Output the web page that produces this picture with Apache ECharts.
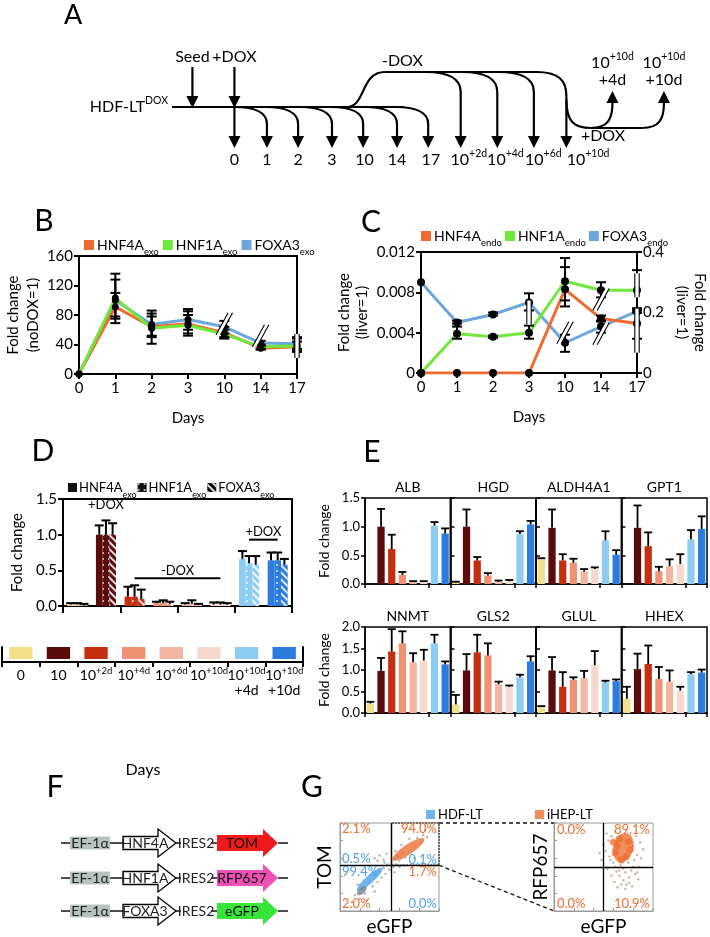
<!DOCTYPE html>
<html>
<head>
<meta charset="utf-8">
<script src="https://cdn.jsdelivr.net/npm/echarts@6/dist/echarts.min.js"></script>
<style>
html,body{margin:0;padding:0;background:#ffffff;}
#chart{width:710px;height:937px;}
</style>
</head>
<body>
<div id="chart"></div>
<script>
const FONT = 'Lato';
const ORANGE = '#F06A2F', GREEN = '#6FE83B', BLUE = '#6BA6DD';
const ORANGE_TXT = '#EE6E2E', BLUE_TXT = '#4EA2E6';

// ===== Panel B data =====
const bDays = ['0','1','2','3','10','14','17'];
const bHNF4A = [0, 91, 64, 68, 56, 35, 37];
const bHNF1A = [0, 103, 62, 66, 54, 37, 38];
const bFOXA3 = [0, 100, 67, 74, 64, 42, 41];
const bHNF4Aerr = [null, [78,110], [50,78], [55,80], [48,64], [33,38], [32,44]];
const bHNF1Aerr = [null, [69,136], [41,86], [52,85], [50,60], [34,40], [30,48]];
const bFOXA3err = [null, [75,128], [52,82], [60,88], [55,72], [38,45], [34,50]];
const bBreaks = [[3.5, 68, 0], [4.5, 52, 0], [5.5, 38, 1]];

// ===== Panel C data =====
const cDays = ['0','1','2','3','10','14','17'];
const cHNF4A = [0, 0, 0, 0, 0.0083, 0.0054, 0.0049];
const cHNF1A = [0, 0.0039, 0.0036, 0.0040, 0.0091, 0.0082, 0.0082];
const cFOXA3 = [0.0090, 0.0050, 0.0058, 0.0070, 0.0030, 0.0046, 0.0061];
const cHNF4Aerr = [null, null, null, null, [0.0066,0.0105], [0.0052,0.0057], [0.0034,0.0062]];
const cHNF1Aerr = [null, [0.0034,0.0046], [0.0035,0.0037], [0.0034,0.0047], [0.0072,0.0114], [0.0075,0.0090], [0.0064,0.0102]];
const cFOXA3err = [null, [0.0049,0.0052], [0.0057,0.0060], [0.0062,0.0079], [0.0021,0.0038], [0.0040,0.0051], [0.0060,0.0064]];
const cBreaks = [[3.42, 0.0060, 1], [3.62, 0.0040, 0], [4.55, 0.0073, 0], [4.52, 0.0039, 0], [5.5, 0.0087, 1], [5.5, 0.0042, 2]];

// ===== Panel D data =====
const keyCats = ['0','10','10+2d','10+4d','10+6d','10+10d','10+10d\n+4d','10+10d\n+10d'];
const keyColors = ['#F3DF89','#5A0B0B','#C42F10','#EE9273','#F2B6A3','#F6D8CF','#8DCDF3','#2C7BDE'];
const keyVals = [1,1,1,1,1,1,1,1];
const dHNF4A = [0.02, 1.00, 0.13, 0.04, 0.02, 0.02, 0.66, 0.64];
const dHNF1A = [0.02, 1.00, 0.13, 0.04, 0.03, 0.02, 0.60, 0.64];
const dFOXA3 = [0.01, 1.00, 0.10, 0.03, 0.02, 0.02, 0.58, 0.58];
const dHNF4Atop = [0.04, 1.13, 0.27, 0.06, 0.04, 0.05, 0.77, 0.75];
const dHNF1Atop = [0.04, 1.20, 0.29, 0.08, 0.08, 0.05, 0.70, 0.75];
const dFOXA3top = [0.03, 1.16, 0.23, 0.06, 0.03, 0.04, 0.70, 0.66];
const dAnnot = [[0.55, 1.45, 1.32, '+DOX'], [1.6, 5.3, 0.39, '-DOX'], [5.55, 7.3, 0.93, '+DOX']];

// ===== Panel E data =====
const eGenes = ['ALB','HGD','ALDH4A1','GPT1','NNMT','GLS2','GLUL','HHEX'];
const eVals = [
  [0, 1.00, 0.61, 0.16, 0.04, 0.04, 1.02, 0.88],
  [0.03, 1.00, 0.41, 0.15, 0.04, 0.05, 0.87, 1.04],
  [0.44, 0.98, 0.41, 0.37, 0.22, 0.26, 0.76, 0.51],
  [0, 0.98, 0.66, 0.22, 0.31, 0.35, 0.78, 0.96],
  [0.22, 0.98, 1.43, 1.62, 1.18, 1.22, 1.62, 1.13],
  [0.20, 0.99, 1.41, 1.34, 0.67, 0.61, 0.83, 1.20],
  [0.15, 0.99, 0.61, 0.77, 0.81, 1.11, 0.71, 0.74],
  [0.33, 1.02, 1.14, 0.79, 0.73, 0.52, 0.90, 0.94]
];
const eTop = [
  [0, 1.31, 0.86, 0.21, 0.05, 0.05, 1.08, 0.97],
  [0.04, 1.30, 0.47, 0.19, 0.06, 0.07, 0.92, 1.10],
  [0.45, 1.30, 0.52, 0.44, 0.26, 0.29, 0.92, 0.59],
  [0, 1.37, 0.90, 0.30, 0.43, 0.52, 0.94, 1.18],
  [0.26, 1.28, 1.95, 1.90, 1.39, 1.47, 1.82, 1.20],
  [0.42, 1.37, 1.82, 1.62, 0.73, 0.64, 0.89, 1.32],
  [0.16, 1.30, 0.95, 0.83, 0.98, 1.44, 0.75, 0.78],
  [0.61, 1.38, 1.57, 1.07, 0.99, 0.61, 0.95, 1.01]
];
const eRowMax = [1.5, 2.0];

// ===== Panel G data =====
const gGateL = 52, gGateR = 50;
const gLeftBlue = [[30, 36]];
const gLeftBlueCore = [[22, 23]];
const gLeftOrange = [[69, 70]];
const gLeftGray = [[12,10],[15,18],[20,14],[22,26],[25,20],[30,33],[33,28],[36,41],[38,33],[40,45],[42,38],[44,49],[46,42],[48,53],[50,47],[52,56],[54,50],[55,59],[57,53],[58,62],[60,57],[62,60],[64,66],[66,61],[78,83],[82,78],[84,86],[88,84],[75,60],[62,75],[45,55],[35,22],[55,44],[35,60],[40,63],[44,58],[38,57],[47,65],[18,30],[27,12],[60,50],[70,82],[86,92],[56,68]];
const gRightOrange = [[70, 72]];
const gRightOrangeBits = [[62,66],[66,82],[75,79],[73,62],[64,74],[77,70],[68,58],[60,78]];
const gRightGray = [[50,75],[52,68],[55,80],[56,62],[58,85],[60,70],[60,55],[62,90],[63,45],[64,78],[65,60],[66,40],[67,52],[68,86],[70,35],[70,48],[71,62],[72,44],[73,30],[74,80],[75,55],[76,38],[77,68],[78,46],[79,28],[80,74],[81,58],[82,42],[83,85],[84,64],[85,36],[86,50],[87,78],[88,60],[58,40],[61,33],[64,27],[68,30],[72,25],[76,32],[54,48],[57,58],[62,50],[66,46],[80,50],[84,44],[90,70],[46,66],[48,58],[53,88]];
const gLeftLabPos = [[2,93],[98,93],[2,59],[98,58],[2,45],[98,45],[2,8],[98,8]];
const gLeftLabText = ['2.1%','94.0%','0.5%','0.1%','99.4%','1.7%','2.0%','0.0%'];
const gLeftLabCol = ['o','o','b','b','b','o','o','b'];
const gRightLabPos = [[3,92],[97,92],[3,8],[97,8]];
const gRightLabText = ['0.0%','89.1%','0.0%','10.9%'];
const gRightLabCol = ['o','o','o','o'];

// ===== helpers =====
function lbl(fs){ return {color:'#000', fontSize:fs, fontFamily:FONT}; }
function axLine(w, c){ return {show:true, onZero:false, lineStyle:{color:c||'#000', width:w}}; }
function axTick(len, w, inside, c){ return {show:true, length:len, inside:!!inside, lineStyle:{color:c||'#000', width:w}}; }
function supFmt(v){
  return String(v).split('\n').map(function(l){
    const i = l.indexOf('+');
    return i > 0 ? '{m|' + l.slice(0,i) + '}{p|' + l.slice(i) + '}' : '{m|' + l + '}';
  }).join('\n');
}
function legendFmt(name){
  const n = name.split(':').pop();
  const i = n.indexOf('_');
  return i < 0 ? '{m|' + n + '}' : '{m|' + n.slice(0,i) + '}{s|' + n.slice(i+1) + '}';
}
const legRich = {
  m:{fontSize:14, fontFamily:FONT, color:'#000', lineHeight:18},
  s:{fontSize:9.5, fontFamily:FONT, color:'#000', verticalAlign:'bottom', lineHeight:10, padding:[0,0,-3,0]}
};
const legRichD = {
  m:{fontSize:13, fontFamily:FONT, color:'#000', lineHeight:18},
  s:{fontSize:9, fontFamily:FONT, color:'#000', verticalAlign:'bottom', lineHeight:10, padding:[0,0,-3,0]}
};
const supRich = {
  m:{fontSize:14, fontFamily:FONT, color:'#000', lineHeight:15},
  p:{fontSize:9.5, fontFamily:FONT, color:'#000', verticalAlign:'top', lineHeight:10, padding:[-2,0,0,0]}
};
function errPairs(arr){
  const out = [];
  arr.forEach(function(e, i){ if (e) out.push([i, e[0], e[1]]); });
  return out;
}
function errBoth(capHalf, lw){
  return function(params, api){
    const x = api.value(0);
    const lo = api.coord([x, api.value(1)]);
    const hi = api.coord([x, api.value(2)]);
    const st = {stroke:'#000', lineWidth:lw};
    return {type:'group', children:[
      {type:'line', shape:{x1:lo[0], y1:lo[1], x2:hi[0], y2:hi[1]}, style:st},
      {type:'line', shape:{x1:hi[0]-capHalf, y1:hi[1], x2:hi[0]+capHalf, y2:hi[1]}, style:st},
      {type:'line', shape:{x1:lo[0]-capHalf, y1:lo[1], x2:lo[0]+capHalf, y2:lo[1]}, style:st}
    ]};
  };
}
function breakRender(params, api){
  const p = api.coord([api.value(0), api.value(1)]);
  const k = api.value(2);
  const h = k === 2 ? 44 : (k === 1 ? 24 : 22);
  const dx = k === 0 ? 6 : 0;
  const g = 2.2;
  const a0 = [p[0]-dx-g, p[1]+h/2], a1 = [p[0]+dx-g, p[1]-h/2];
  const b0 = [p[0]-dx+g, p[1]+h/2], b1 = [p[0]+dx+g, p[1]-h/2];
  const st = {stroke:'#000', lineWidth:1.1};
  return {type:'group', children:[
    {type:'polygon', shape:{points:[a0,a1,b1,b0]}, style:{fill:'#fff'}},
    {type:'line', shape:{x1:a0[0], y1:a0[1], x2:a1[0], y2:a1[1]}, style:st},
    {type:'line', shape:{x1:b0[0], y1:b0[1], x2:b1[0], y2:b1[1]}, style:st}
  ]};
}
function barErrRender(nInGroup, gapFrac, capHalf, lw){
  return function(params, api){
    const c = api.value(0), v = api.value(1), hi = api.value(2), s = api.value(3);
    const band = api.size([1, 0])[0];
    const bw = band * (1 - gapFrac) / nInGroup;
    const base = api.coord([c, v]);
    const x = base[0] + (s - (nInGroup - 1) / 2) * bw;
    const top = api.coord([c, hi])[1];
    const st = {stroke:'#000', lineWidth:lw};
    return {type:'group', children:[
      {type:'line', shape:{x1:x, y1:base[1], x2:x, y2:top}, style:st},
      {type:'line', shape:{x1:x-capHalf, y1:top, x2:x+capHalf, y2:top}, style:st}
    ]};
  };
}

// ===== grids / axes =====
const grids = [
  {left:79, top:256, width:218, height:118, show:true, borderColor:'#000', borderWidth:2},
  {left:421, top:252, width:221, height:121, show:true, borderColor:'#000', borderWidth:2},
  {left:63, top:499, width:229, height:107, show:true, borderColor:'#000', borderWidth:2},
  {left:2, top:647, width:301, height:15}
];
const eColLeft = [365, 450.5, 536, 621.5], eW = 85.5, eRowTop = [498, 627], eH = 86;
for (let k = 0; k < 8; k++) {
  grids.push({left:eColLeft[k % 4], top:eRowTop[k >> 2], width:eW, height:eH, show:true, borderColor:'#000', borderWidth:1.5});
}
grids.push({left:340, top:823, width:99, height:91, show:true, borderColor:'#999', borderWidth:1});
grids.push({left:554, top:823, width:99, height:90, show:true, borderColor:'#999', borderWidth:1});

const xAxes = [
  {gridIndex:0, type:'category', data:bDays, boundaryGap:false, axisLine:axLine(2), axisTick:axTick(5,2), axisLabel:Object.assign(lbl(15),{margin:7}),
   name:'Days', nameLocation:'middle', nameGap:37, nameTextStyle:lbl(15)},
  {gridIndex:1, type:'category', data:cDays, boundaryGap:false, axisLine:axLine(2), axisTick:axTick(5,2), axisLabel:Object.assign(lbl(15),{margin:7}),
   name:'Days', nameLocation:'middle', nameGap:37, nameTextStyle:lbl(15)},
  {gridIndex:2, type:'category', data:keyCats, axisLine:axLine(2), axisTick:axTick(7,2), axisLabel:{show:false}},
  {gridIndex:3, type:'category', data:keyCats, axisLine:axLine(2), axisTick:axTick(5,2),
   axisLabel:{margin:6, interval:0, hideOverlap:false, formatter:supFmt, rich:supRich, color:'#000'}}
];
for (let k = 0; k < 8; k++) {
  xAxes.push({gridIndex:4+k, type:'category', data:keyCats, axisLine:axLine(1.5), axisTick:axTick(4,1.5), axisLabel:{show:false}});
}
xAxes.push({gridIndex:12, type:'value', min:0, max:100, interval:20, axisLine:axLine(1,'#999'), axisTick:axTick(3,1,true,'#999'), axisLabel:{show:false}, splitLine:{show:false},
  name:'eGFP', nameLocation:'middle', nameGap:6, nameTextStyle:{fontSize:19, fontFamily:FONT, color:'#000', verticalAlign:'top'}});
xAxes.push({gridIndex:13, type:'value', min:0, max:100, interval:20, axisLine:axLine(1,'#999'), axisTick:axTick(3,1,true,'#999'), axisLabel:{show:false}, splitLine:{show:false},
  name:'eGFP', nameLocation:'middle', nameGap:6, nameTextStyle:{fontSize:19, fontFamily:FONT, color:'#000', verticalAlign:'top'}});

const yAxes = [
  {gridIndex:0, type:'value', min:0, max:160, interval:40, axisLine:axLine(2), axisTick:axTick(5,2), axisLabel:Object.assign(lbl(15),{margin:6}), splitLine:{show:false},
   name:'Fold change\n(noDOX=1)', nameLocation:'middle', nameGap:36, nameTextStyle:Object.assign(lbl(15),{lineHeight:20})},
  {gridIndex:1, type:'value', min:0, max:0.012, interval:0.004, axisLine:axLine(2), axisTick:axTick(5,2), splitLine:{show:false},
   axisLabel:Object.assign(lbl(15),{margin:6, formatter:function(v){ return v === 0 ? '0' : v.toFixed(3); }}),
   name:'Fold change\n(liver=1)', nameLocation:'middle', nameGap:50, nameTextStyle:Object.assign(lbl(15),{lineHeight:18})},
  {gridIndex:1, type:'value', position:'right', min:0, max:0.4, interval:0.2, axisLine:axLine(2), axisTick:axTick(5,2), splitLine:{show:false},
   axisLabel:Object.assign(lbl(15),{margin:6, formatter:function(v){ return v === 0 ? '0' : String(+v.toFixed(1)); }}),
   name:'Fold change\n(liver=1)', nameLocation:'middle', nameRotate:-90, nameGap:36, nameTextStyle:Object.assign(lbl(15),{lineHeight:18})},
  {gridIndex:2, type:'value', min:0, max:1.5, interval:0.5, axisLine:axLine(2), axisTick:axTick(5,2), splitLine:{show:false},
   axisLabel:Object.assign(lbl(15),{margin:6, formatter:function(v){ return v.toFixed(1); }}),
   name:'Fold change', nameLocation:'middle', nameGap:38, nameTextStyle:lbl(15)},
  {gridIndex:3, type:'value', min:-0.25, max:1, axisLine:axLine(2), axisTick:{show:false}, axisLabel:{show:false}, splitLine:{show:false}},
  {gridIndex:3, type:'value', position:'right', min:-0.25, max:1, axisLine:axLine(2), axisTick:{show:false}, axisLabel:{show:false}, splitLine:{show:false}}
];
for (let k = 0; k < 8; k++) {
  const first = (k % 4) === 0;
  const mx = eRowMax[k >> 2];
  yAxes.push({gridIndex:4+k, type:'value', min:0, max:mx, interval:0.5, axisLine:axLine(1.5), axisTick:axTick(4,1.5,!first), splitLine:{show:false},
    axisLabel:first ? Object.assign(lbl(13),{margin:5, formatter:function(v){ return v.toFixed(1); }}) : {show:false},
    name:first ? 'Fold change' : '', nameLocation:'middle', nameGap:34, nameTextStyle:lbl(14)});
}
yAxes.push({gridIndex:12, type:'value', min:0, max:100, interval:20, axisLine:axLine(1,'#999'), axisTick:axTick(3,1,true,'#999'), axisLabel:{show:false}, splitLine:{show:false},
  name:'TOM', nameLocation:'middle', nameGap:6, nameTextStyle:{fontSize:19, fontFamily:FONT, color:'#000', verticalAlign:'bottom'}});
yAxes.push({gridIndex:13, type:'value', min:0, max:100, interval:20, axisLine:axLine(1,'#999'), axisTick:axTick(3,1,true,'#999'), axisLabel:{show:false}, splitLine:{show:false},
  name:'RFP657', nameLocation:'middle', nameGap:4, nameTextStyle:{fontSize:19, fontFamily:FONT, color:'#000', verticalAlign:'bottom'}});

// ===== series =====
const series = [];
// B
[['B:FOXA3_exo', bFOXA3, BLUE], ['B:HNF4A_exo', bHNF4A, ORANGE], ['B:HNF1A_exo', bHNF1A, GREEN]].forEach(function(s){
  series.push({type:'line', name:s[0], xAxisIndex:0, yAxisIndex:0, data:s[1], symbol:'circle', symbolSize:7,
    itemStyle:{color:'#000'}, lineStyle:{color:s[2], width:3}, z:3});
});
series.push({type:'custom', xAxisIndex:0, yAxisIndex:0, renderItem:errBoth(5,2), encode:{x:0, y:[1,2]},
  data:errPairs(bHNF4Aerr).concat(errPairs(bHNF1Aerr), errPairs(bFOXA3err)), z:4, silent:true});
series.push({type:'custom', xAxisIndex:0, yAxisIndex:0, renderItem:breakRender, encode:{x:0, y:1}, data:bBreaks, z:6, silent:true});
// C
[['C:FOXA3_endo', cFOXA3, BLUE], ['C:HNF4A_endo', cHNF4A, ORANGE], ['C:HNF1A_endo', cHNF1A, GREEN]].forEach(function(s){
  series.push({type:'line', name:s[0], xAxisIndex:1, yAxisIndex:1, data:s[1], symbol:'circle', symbolSize:8,
    itemStyle:{color:'#000'}, lineStyle:{color:s[2], width:3}, z:3});
});
series.push({type:'custom', xAxisIndex:1, yAxisIndex:1, renderItem:errBoth(5,2), encode:{x:0, y:[1,2]},
  data:errPairs(cHNF4Aerr).concat(errPairs(cHNF1Aerr), errPairs(cFOXA3err)), z:4, silent:true});
series.push({type:'custom', xAxisIndex:1, yAxisIndex:1, renderItem:breakRender, encode:{x:0, y:1}, data:cBreaks, z:6, silent:true});
// D
const dDecals = [
  null,
  {symbol:'circle', symbolSize:1, dashArrayX:[2,4], dashArrayY:[2,4], color:'rgba(255,255,255,0.9)'},
  {symbol:'rect', symbolSize:1, dashArrayX:[1,0], dashArrayY:[2,3], rotation:Math.PI/4, color:'rgba(255,255,255,0.85)'}
];
const dNames = ['D:HNF4A_exo','D:HNF1A_exo','D:FOXA3_exo'];
const dVals = [dHNF4A, dHNF1A, dFOXA3];
const dTops = [dHNF4Atop, dHNF1Atop, dFOXA3top];
const dErrData = [];
for (let s = 0; s < 3; s++) {
  const st = {color:'#111'};
  if (dDecals[s]) st.decal = dDecals[s];
  series.push({type:'bar', name:dNames[s], xAxisIndex:2, yAxisIndex:3, barGap:'0%', barCategoryGap:'30%',
    itemStyle:st,
    data:dVals[s].map(function(v, i){ const it = {color:keyColors[i]}; if (dDecals[s]) it.decal = dDecals[s]; return {value:v, itemStyle:it}; })});
  dVals[s].forEach(function(v, i){ dErrData.push([i, v, dTops[s][i], s]); });
}
series.push({type:'custom', xAxisIndex:2, yAxisIndex:3, renderItem:barErrRender(3, 0.3, 4.5, 2), encode:{x:0, y:[1,2]}, data:dErrData, z:4, silent:true});
series.push({type:'custom', xAxisIndex:2, yAxisIndex:3, encode:{x:[0,1], y:2}, silent:true, z:5,
  data:dAnnot.map(function(a){ return [a[0], a[1], a[2]]; }),
  renderItem:function(params, api){
    const p0 = api.coord([api.value(0), api.value(2)]);
    const p1 = api.coord([api.value(1), api.value(2)]);
    return {type:'group', children:[
      {type:'line', shape:{x1:p0[0], y1:p0[1], x2:p1[0], y2:p1[1]}, style:{stroke:'#000', lineWidth:2}},
      {type:'text', x:(p0[0]+p1[0])/2, y:p0[1]-1, style:{text:dAnnot[params.dataIndex][3], fontSize:13, fontFamily:FONT, fill:'#000', align:'center', verticalAlign:'bottom'}}
    ]};
  }});
// key
series.push({type:'bar', xAxisIndex:3, yAxisIndex:4, barCategoryGap:'38%', silent:true,
  data:keyVals.map(function(v, i){ return {value:v, itemStyle:{color:keyColors[i]}}; })});
// E
for (let k = 0; k < 8; k++) {
  series.push({type:'bar', xAxisIndex:4+k, yAxisIndex:6+k, barCategoryGap:'32%', silent:true,
    data:eVals[k].map(function(v, i){ return {value:v, itemStyle:{color:keyColors[i]}}; })});
  series.push({type:'custom', xAxisIndex:4+k, yAxisIndex:6+k, renderItem:barErrRender(1, 0.32, 4, 1.8), encode:{x:0, y:[1,2]}, silent:true, z:4,
    data:eVals[k].map(function(v, i){ return [i, v, eTop[k][i], 0]; }).filter(function(d){ return d[2] > 0; })});
}
// G
const gateLine = function(g){ return {silent:true, symbol:'none', label:{show:false}, lineStyle:{color:'#000', width:1.3, type:'solid'}, data:[{xAxis:g},{yAxis:g}]}; };
series.push({type:'scatter', xAxisIndex:12, yAxisIndex:14, data:gLeftGray, symbolSize:2.6, itemStyle:{color:'#A8A8A8'}, silent:true, z:2,
  markLine:gateLine(gGateL),
  markArea:{silent:true, itemStyle:{color:'rgba(0,0,0,0)', borderColor:'#222', borderWidth:1.5, borderType:'dotted'}, data:[[{coord:[gGateL,gGateL]},{coord:[100,100]}]]}});
series.push({type:'scatter', name:'HDF-LT', xAxisIndex:12, yAxisIndex:14, data:gLeftBlue, symbol:'circle', symbolSize:[34,8], symbolRotate:42, itemStyle:{color:'#4DA3E8'}, silent:true, z:3});
series.push({type:'scatter', xAxisIndex:12, yAxisIndex:14, data:gLeftBlueCore, symbol:'circle', symbolSize:[12,6], symbolRotate:42, itemStyle:{color:'#6F8796'}, silent:true, z:4});
series.push({type:'scatter', name:'iHEP-LT', xAxisIndex:12, yAxisIndex:14, data:gLeftOrange, symbol:'circle', symbolSize:[38,10], symbolRotate:34, itemStyle:{color:'#EE7033'}, silent:true, z:3});
series.push({type:'scatter', xAxisIndex:13, yAxisIndex:15, data:gRightGray, symbolSize:2.6, itemStyle:{color:'#C4A59A'}, silent:true, z:2, markLine:gateLine(gGateR)});
series.push({type:'scatter', name:'iHEP-LT', xAxisIndex:13, yAxisIndex:15, data:gRightOrange, symbol:'circle', symbolSize:[20,30], symbolRotate:-15, itemStyle:{color:'#EE7033'}, silent:true, z:3});
series.push({type:'scatter', xAxisIndex:13, yAxisIndex:15, data:gRightOrangeBits, symbol:'circle', symbolSize:7, itemStyle:{color:'#EE7033'}, silent:true, z:3});
function quadLabels(xi, yi, pos, txt, col){
  return {type:'custom', xAxisIndex:xi, yAxisIndex:yi, encode:{x:0, y:1}, data:pos, silent:true, z:6,
    renderItem:function(params, api){
      const p = api.coord([api.value(0), api.value(1)]);
      const i = params.dataIndex;
      return {type:'text', x:p[0], y:p[1], style:{text:txt[i], fontSize:13, fontFamily:FONT,
        fill:col[i] === 'o' ? ORANGE_TXT : BLUE_TXT, align:api.value(0) < 50 ? 'left' : 'right', verticalAlign:'middle'}};
    }};
}
series.push(quadLabels(12, 14, gLeftLabPos, gLeftLabText, gLeftLabCol));
series.push(quadLabels(13, 15, gRightLabPos, gRightLabText, gRightLabCol));

// ===== legends =====
const legBase = {icon:'rect', itemWidth:10, itemHeight:10, selectedMode:false, formatter:legendFmt, textStyle:{rich:legRich, padding:[0,0,0,-2]}};
const legends = [
  Object.assign({}, legBase, {left:79, top:233, itemGap:4, data:[
    {name:'B:HNF4A_exo', itemStyle:{color:ORANGE}}, {name:'B:HNF1A_exo', itemStyle:{color:GREEN}}, {name:'B:FOXA3_exo', itemStyle:{color:BLUE}}]}),
  Object.assign({}, legBase, {left:416, top:224, itemGap:3, data:[
    {name:'C:HNF4A_endo', itemStyle:{color:ORANGE}}, {name:'C:HNF1A_endo', itemStyle:{color:GREEN}}, {name:'C:FOXA3_endo', itemStyle:{color:BLUE}}]}),
  Object.assign({}, legBase, {left:63, top:476, itemGap:1, itemWidth:9, itemHeight:9, textStyle:{rich:legRichD, padding:[0,0,0,-3]}, data:['D:HNF4A_exo','D:HNF1A_exo','D:FOXA3_exo']}),
  {left:421, top:803, icon:'rect', itemWidth:9, itemHeight:9, itemGap:52, selectedMode:false,
   textStyle:{fontSize:13, fontFamily:FONT, color:'#000', padding:[0,0,0,-2]}, data:['HDF-LT','iHEP-LT']}
];

// ===== graphic (schematics & labels) =====
const G = [];
const LW = 2.2;
function gLine(x1,y1,x2,y2,w){ G.push({type:'line', shape:{x1:x1,y1:y1,x2:x2,y2:y2}, style:{stroke:'#000', lineWidth:w||LW}}); }
function gBez(x1,y1,c1x,c1y,c2x,c2y,x2,y2){ G.push({type:'bezierCurve', shape:{x1:x1,y1:y1,cpx1:c1x,cpy1:c1y,cpx2:c2x,cpy2:c2y,x2:x2,y2:y2}, style:{stroke:'#000', lineWidth:LW, fill:null}}); }
function gHeadDown(x,tip){ G.push({type:'polygon', shape:{points:[[x-6,tip-12],[x+6,tip-12],[x,tip]]}, style:{fill:'#000'}}); }
function gHeadUp(x,tip){ G.push({type:'polygon', shape:{points:[[x-6,tip+12],[x+6,tip+12],[x,tip]]}, style:{fill:'#000'}}); }
function gText(x,y,text,size,opts){
  G.push({type:'text', x:x, y:y, z:10, style:Object.assign({text:text, fontSize:size, fontFamily:FONT, fill:'#000', align:'center', verticalAlign:'middle'}, opts||{})});
}
const aRich = {m:{fontSize:16, fontFamily:FONT, color:'#000', lineHeight:18}, p:{fontSize:10.5, fontFamily:FONT, color:'#000', verticalAlign:'top', lineHeight:11, padding:[-3,0,0,0]}};

// Panel A (horizontal layout stretched by factor S)
const S = 1.355;
function X(v){ return v * S; }
gLine(X(127),107,X(298),107);
gLine(X(142),67,X(142),97); gHeadDown(X(142),108);
gLine(X(173),67,X(173),97); gHeadDown(X(173),108); gLine(X(173),107,X(173),138); gHeadDown(X(173),148);
[197,220,245,268,293,316].forEach(function(xa){ gBez(X(xa-24),107, X(xa-10),107, X(xa),112, X(xa),124); gLine(X(xa),124,X(xa),138); gHeadDown(X(xa),148); });
gBez(X(256),107, X(270),107, X(266),72, X(284),72); gLine(X(284),72,X(398),72);
[340,367,394].forEach(function(xa){ gBez(X(xa-26),72, X(xa-10),72, X(xa),78, X(xa),92); gLine(X(xa),92,X(xa),138); gHeadDown(X(xa),148); });
gBez(X(396),72, X(412),72, X(418),80, X(418),96); gLine(X(418),96,X(418),138); gHeadDown(X(418),148);
gBez(X(418),100, X(418),122, X(424),128, X(436),128); gLine(X(436),128,X(474),128);
gBez(X(474),128, X(486),128, X(490),120, X(490),103); gHeadUp(X(490),91);
gBez(X(436),128, X(448),128, X(452),120, X(452),103); gHeadUp(X(452),91);
const aDayLabels = ['0','1','2','3','10','14','17','10+2d','10+4d','10+6d','10+10d'];
const aDayX = [173,197,220,245,269,293,318,346,373,401,434];
aDayLabels.forEach(function(t, i){ gText(X(aDayX[i]), 160, supFmt(t), 16, {rich:aRich}); });
gText(X(54),15,'A',27);
gText(X(124),107,'{m|HDF-LT}{p|DOX}',16,{align:'right', rich:aRich});
gText(X(142),57,'Seed',16); gText(X(173),57,'+DOX',16);
gText(X(297),61,'-DOX',16);
gText(X(452),63,'{m|10}{p|+10d}',16,{rich:aRich}); gText(X(452),80,'+4d',16);
gText(X(490),63,'{m|10}{p|+10d}',16,{rich:aRich}); gText(X(490),80,'+10d',16);
gText(X(445),136,'+DOX',16);

// panel letters & loose labels
gText(44,221,'B',30); gText(371,222,'C',30); gText(43,451,'D',30); gText(372,452,'E',30);
gText(55,787,'F',30); gText(312,787,'G',30);
gText(143,770,'Days',16);

// E gene titles
for (let k = 0; k < 8; k++) {
  gText(eColLeft[k % 4] + eW/2, eRowTop[k >> 2] - 11, eGenes[k], 14);
}

// Panel F constructs
const fY = [843, 878, 911];
const fGenes = ['HNF4A','HNF1A','FOXA3'];
const fReporters = ['TOM','RFP657','eGFP'];
const fRepColors = ['#F01A1A','#EE50B6','#3AE53A'];
fY.forEach(function(y, i){
  gLine(61,y,70,y,1.4);
  G.push({type:'rect', shape:{x:70, y:y-6.5, width:40, height:13}, style:{fill:'#B8C3C1'}});
  gText(90,y,'EF-1α',14,{fill:'#222'});
  gLine(110,y,123,y,1.4);
  G.push({type:'polygon', shape:{points:[[123,y-6.5],[158,y-6.5],[158,y-14],[176,y],[158,y+14],[158,y+6.5],[123,y+6.5]]}, style:{fill:'#fff', stroke:'#000', lineWidth:1.3}});
  gText(145,y,fGenes[i],14,{fill:'#222'});
  gLine(176,y,181,y,1.4);
  gText(196,y,'IRES2',14,{fill:'#222'});
  gLine(211,y,217,y,1.4);
  G.push({type:'polygon', shape:{points:[[217,y-8],[263,y-8],[263,y-14],[278,y],[263,y+14],[263,y+8],[217,y+8]]}, style:{fill:fRepColors[i]}});
  gText(242,y,fReporters[i],14,{fill:'#111'});
  gLine(278,y,288,y,1.4);
});

const option = {
  animation:false,
  backgroundColor:'#fff',
  textStyle:{fontFamily:FONT},
  grid:grids, xAxis:xAxes, yAxis:yAxes, legend:legends, series:series
};
const chart = echarts.init(document.getElementById('chart'));
chart.setOption(option);
// zoom connector lines between G plots
const p1 = chart.convertToPixel({gridIndex:12}, [100, 100]);
const p2 = chart.convertToPixel({gridIndex:13}, [0, 100]);
const p3 = chart.convertToPixel({gridIndex:12}, [100, gGateL]);
const p4 = chart.convertToPixel({gridIndex:13}, [0, 0]);
G.push({type:'line', shape:{x1:p1[0], y1:p1[1], x2:p2[0], y2:p2[1]}, style:{stroke:'#111', lineWidth:1.3, lineDash:[4,3]}});
G.push({type:'line', shape:{x1:p3[0], y1:p3[1], x2:p4[0], y2:p4[1]}, style:{stroke:'#111', lineWidth:1.3, lineDash:[4,3]}});
chart.setOption({graphic:G});
</script>
</body>
</html>
